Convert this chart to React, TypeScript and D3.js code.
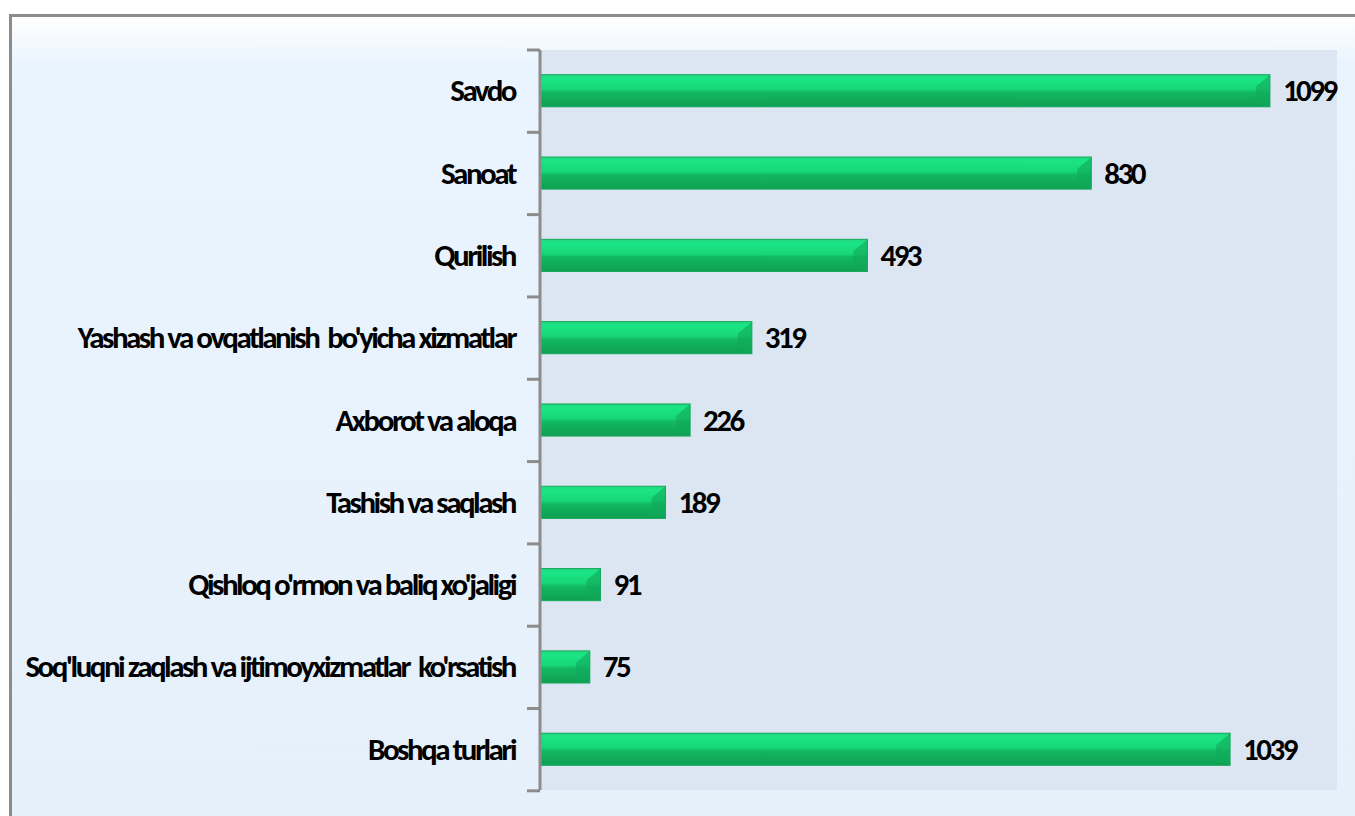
import React, { useEffect, useRef } from "react";
import * as d3 from "d3";

const categories = [
  "Savdo",
  "Sanoat",
  "Qurilish",
  "Yashash va ovqatlanish  bo'yicha xizmatlar",
  "Axborot va aloqa",
  "Tashish va saqlash",
  "Qishloq o'rmon va baliq xo'jaligi",
  "Soq'luqni zaqlash va ijtimoyxizmatlar  ko'rsatish",
  "Boshqa turlari",
];
const values = [1099, 830, 493, 319, 226, 189, 91, 75, 1039];

const W = 1355;
const H = 816;
const FONT = "Carlito, Calibri, 'Liberation Sans', Arial, sans-serif";

export default function App() {
  const ref = useRef<SVGSVGElement>(null);

  useEffect(() => {
    const svg = d3.select(ref.current);
    svg.selectAll("*").remove();

    const margin = { left: 540, top: 50, right: 18, bottom: 26 };
    const x = d3.scaleLinear().domain([0, 1200]).range([margin.left, W - margin.right]);
    const y = d3
      .scaleBand()
      .domain(categories)
      .range([margin.top, H - margin.bottom])
      .paddingInner(0.61)
      .paddingOuter(0.3);

    const defs = svg.append("defs");
    const outer = defs.append("linearGradient").attr("id", "outer").attr("x1", 0).attr("y1", 0).attr("x2", 0).attr("y2", 1);
    outer.append("stop").attr("offset", "0%").attr("stop-color", "#ffffff");
    outer.append("stop").attr("offset", "6%").attr("stop-color", "#eaf4fe");
    outer.append("stop").attr("offset", "100%").attr("stop-color", "#e6f0fb");

    const bar = defs.append("linearGradient").attr("id", "bar").attr("x1", 0).attr("y1", 0).attr("x2", 0).attr("y2", 1);
    bar.append("stop").attr("offset", "0%").attr("stop-color", "#22d680");
    bar.append("stop").attr("offset", "12%").attr("stop-color", "#1be585");
    bar.append("stop").attr("offset", "45%").attr("stop-color", "#17d77a");
    bar.append("stop").attr("offset", "55%").attr("stop-color", "#12b862");
    bar.append("stop").attr("offset", "100%").attr("stop-color", "#0f9f52");

    // outer frame
    svg.append("rect").attr("x", 0).attr("y", 0).attr("width", W).attr("height", H).attr("fill", "#ffffff");
    svg.append("rect").attr("x", 11).attr("y", 16).attr("width", W - 11).attr("height", H - 16).attr("fill", "url(#outer)");
    svg.append("line").attr("x1", 9.5).attr("x2", W).attr("y1", 15.5).attr("y2", 15.5).attr("stroke", "#8c8c8c").attr("stroke-width", 3);
    svg.append("line").attr("x1", 10.5).attr("x2", 10.5).attr("y1", 14).attr("y2", H).attr("stroke", "#8c8c8c").attr("stroke-width", 3);

    // plot area
    svg
      .append("rect")
      .attr("x", margin.left)
      .attr("y", margin.top)
      .attr("width", W - margin.right - margin.left)
      .attr("height", H - margin.bottom - margin.top)
      .attr("fill", "#dce6f2");

    // bars
    const g = svg.append("g");
    g.selectAll("rect.bar")
      .data(values)
      .join("rect")
      .attr("class", "bar")
      .attr("x", x(0))
      .attr("y", (_, i) => y(categories[i])!)
      .attr("width", (d) => x(d) - x(0))
      .attr("height", y.bandwidth())
      .attr("fill", "url(#bar)")
      .attr("stroke", "#14a85a")
      .attr("stroke-width", 1);

    // bevel on bar end
    g.selectAll("path.bevel")
      .data(values)
      .join("path")
      .attr("class", "bevel")
      .attr("d", (d, i) => {
        const x1 = x(d);
        const y0 = y(categories[i])!;
        const h = y.bandwidth();
        return `M${x1},${y0} L${x1 - 14},${y0 + 12} L${x1 - 14},${y0 + h - 4} L${x1},${y0 + h} Z`;
      })
      .attr("fill", "#10a85a")
      .attr("opacity", 0.6);

    // value labels
    g.selectAll("text.val")
      .data(values)
      .join("text")
      .attr("class", "val")
      .attr("x", (d) => x(d) + 13)
      .attr("y", (_, i) => y(categories[i])! + y.bandwidth() / 2)
      .attr("dy", "0.34em")
      .attr("font-family", FONT)
      .attr("font-weight", "bold")
      .attr("font-size", 31)
      .attr("letter-spacing", -2.5)
      .attr("fill", "#000")
      .text((d) => d);

    // axis
    const ax = svg.append("g");
    ax.append("line")
      .attr("x1", margin.left)
      .attr("x2", margin.left)
      .attr("y1", margin.top)
      .attr("y2", H - margin.bottom)
      .attr("stroke", "#8c8c8c")
      .attr("stroke-width", 3);
    const step = y.step();
    const tickYs = d3.range(categories.length + 1).map((i) => margin.top + i * step);
    ax.selectAll("line.tick")
      .data(tickYs)
      .join("line")
      .attr("class", "tick")
      .attr("x1", margin.left - 13)
      .attr("x2", margin.left)
      .attr("y1", (d) => d)
      .attr("y2", (d) => d)
      .attr("stroke", "#8c8c8c")
      .attr("stroke-width", 3);

    ax.selectAll("text.cat")
      .data(categories)
      .join("text")
      .attr("class", "cat")
      .attr("x", margin.left - 25)
      .attr("y", (d) => y(d)! + y.bandwidth() / 2)
      .attr("dy", "0.34em")
      .attr("text-anchor", "end")
      .attr("font-family", FONT)
      .attr("font-weight", "bold")
      .attr("font-size", 31)
      .attr("letter-spacing", -2.5)
      .style("white-space", "pre")
      .attr("fill", "#000")
      .text((d) => d);
  }, []);

  return (
    <svg
      ref={ref}
      width={W}
      height={H}
      style={{ position: "absolute", left: 0, top: 0, display: "block" }}
    />
  );
}
